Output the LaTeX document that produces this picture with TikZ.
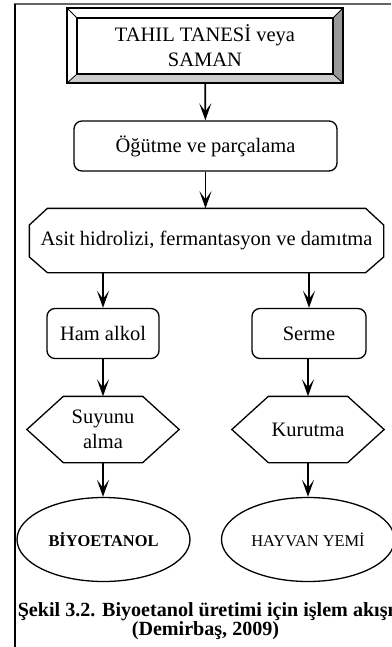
\documentclass[tikz,border=0pt]{standalone}
\usepackage{fontspec}
\setmainfont{Liberation Serif}
\usetikzlibrary{arrows.meta}

\begin{document}
\begin{tikzpicture}[x=1pt, y=1pt, node distance=94pt, line width=1.3pt,
    every node/.style={font=\fontsize{20.5}{24.5}\selectfont, align=center, inner sep=0pt},
    flow/.style={-{Stealth[length=17pt,width=12pt,inset=8pt]}, line width=1.8pt},
    bevelbox/.style={draw, line width=1.6pt, minimum width=276pt, minimum height=75pt,
        path picture={
            \fill[black!40] (path picture bounding box.north east) -- (path picture bounding box.south east) -- ([shift={(-10,9)}]path picture bounding box.south east) -- ([shift={(-10,-10)}]path picture bounding box.north east) -- cycle;
            \fill[black!20] (path picture bounding box.south west) -- (path picture bounding box.south east) -- ([shift={(-10,9)}]path picture bounding box.south east) -- ([shift={(10,9)}]path picture bounding box.south west) -- cycle;
            \draw[line width=1.3pt] ([shift={(10,-10)}]path picture bounding box.north west) rectangle ([shift={(-10,9)}]path picture bounding box.south east);
            \draw[line width=0.8pt] (path picture bounding box.north west) -- ([shift={(10,-10)}]path picture bounding box.north west)
                (path picture bounding box.north east) -- ([shift={(-10,-10)}]path picture bounding box.north east)
                (path picture bounding box.south east) -- ([shift={(-10,9)}]path picture bounding box.south east)
                (path picture bounding box.south west) -- ([shift={(10,9)}]path picture bounding box.south west);
        }},
    roundbox/.style={draw, rounded corners=8pt, minimum height=50pt},
    octbox/.style={minimum width=353pt, minimum height=63pt},
    hexbox/.style={minimum width=151pt, minimum height=65pt},
    endbox/.style={minimum width=173pt, minimum height=84pt, font=\fontsize{16.4}{20}\selectfont}]

    \useasboundingbox (0,0) rectangle (391,-647);
    \draw[black!60, line width=1.5pt] (14,-4) -- (391,-4);
    \draw (15,-4) -- (15,-647);

    \node[bevelbox] (tahil) at (205,-45.5) {TAHIL TANESİ veya\\SAMAN};
    \node[roundbox, minimum width=263pt, below of=tahil, yshift=-6.5pt, xshift=0.5pt] (ogutme) {Öğütme ve parçalama};
    \node[octbox, below of=ogutme, yshift=-0.5pt, xshift=1pt] (asit) {Asit hidrolizi, fermantasyon ve damıtma};

    \node[roundbox, minimum width=112pt, below of=asit, yshift=1pt, xshift=-103.5pt] (ham) {Ham alkol};
    \node[roundbox, minimum width=114pt, right of=ham, xshift=112pt] (serme) {Serme};

    \node[hexbox, below of=ham, yshift=-2pt] (suyu) {Suyunu\\alma};
    \node[hexbox, below of=serme, yshift=-2pt, xshift=-1pt] (kurut) {Kurutma};

    \node[endbox, below of=suyu, yshift=-16pt, xshift=0.5pt] (bio) {\bfseries BİYOETANOL};
    \node[endbox, below of=kurut, yshift=-16pt] (yem) {HAYVAN YEMİ};

    \node[font=\fontsize{20.1}{17}\selectfont\bfseries] (cap) at (205.5,-621.5) {Şekil 3.2. Biyoetanol üretimi için işlem akışı\\(Demirbaş, 2009)};

    \draw (asit.west |- 0,-225) -- ([xshift=18]asit.north west) -- ([xshift=-18]asit.north east) -- (asit.east |- 0,-225)
        -- (asit.east |- 0,-257) -- ([xshift=-18]asit.south east) -- ([xshift=18]asit.south west) -- (asit.west |- 0,-257) -- cycle;
    \foreach \h in {suyu,kurut}
        \draw (\h.west) -- ([xshift=36.5]\h.north west) -- ([xshift=-36.5]\h.north east) -- (\h.east)
            -- ([xshift=-36.5]\h.south east) -- ([xshift=36.5]\h.south west) -- cycle;
    \foreach \e in {bio,yem}
        \draw (\e) ellipse [x radius=86.5, y radius=42];

    \draw[flow] (tahil) -- (ogutme);
    \draw[flow] (ogutme) -- (ogutme.south |- asit.north);
    \draw[flow] (asit.south -| ham) -- (ham);
    \draw[flow] (asit.south -| serme) -- (serme);
    \draw[flow] (ham) -- (ham.south |- suyu.north);
    \draw[flow] (serme.south -| kurut) -- (kurut);
    \draw[flow] (suyu) -- (suyu.south |- bio.north);
    \draw[flow] (kurut) -- (yem);
\end{tikzpicture}
\end{document}
